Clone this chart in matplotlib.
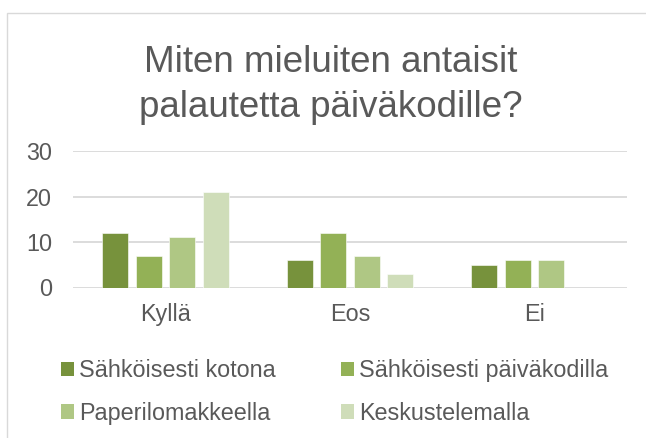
import matplotlib.pyplot as plt
from matplotlib.patches import Patch, Rectangle
import numpy as np

plt.rcParams['font.family'] = ['Liberation Sans', 'DejaVu Sans']

categories = ["Kyllä", "Eos", "Ei"]
series_names = ["Sähköisesti kotona", "Sähköisesti päiväkodilla",
                "Paperilomakkeella", "Keskustelemalla"]
values = [
    [12, 6, 5],   # Sähköisesti kotona
    [7, 12, 6],   # Sähköisesti päiväkodilla
    [11, 7, 6],   # Paperilomakkeella
    [21, 3, 0],   # Keskustelemalla
]
colors = ["#77923C", "#93B156", "#AFC784", "#CFDDB9"]
text_col = "#595959"

W, H = 646, 438
fig = plt.figure(figsize=(W / 100, H / 100), dpi=100)
ax = fig.add_axes([73 / W, 1 - 287.5 / H, 554 / W, 136.5 / H])

# chart border (light gray)
fig.patches.append(Rectangle((7 / W, -0.1), 1.2, (H - 13) / H + 0.1,
                             transform=fig.transFigure, fill=False,
                             edgecolor="#D9D9D9", linewidth=1.0))

x = np.arange(len(categories))
step = 0.182
width = 0.141
for i, (name, vals) in enumerate(zip(series_names, values)):
    ax.bar(x + (i - 1.5) * step, vals, width, color=colors[i],
           edgecolor="white", linewidth=0.4, label=name, zorder=3)

ax.set_xlim(-0.5, 2.5)
ax.set_ylim(0, 30)
ax.set_yticks([0, 10, 20, 30])
ax.set_xticks(x)
ax.set_xticklabels(categories)
ax.grid(axis="y", color="#D9D9D9", linewidth=1.3, zorder=0)
ax.set_axisbelow(True)
for s in ax.spines.values():
    s.set_visible(False)
ax.tick_params(length=0, labelsize=16.8, labelcolor=text_col)
ax.tick_params(axis="y", pad=15)
ax.tick_params(axis="x", pad=11)

title_lines = ["Miten mieluiten antaisit", "palautetta päiväkodille?"]
for line, base in zip(title_lines, [72, 117]):
    fig.text(330.5 / W, 1 - base / H, line, ha="center", va="baseline",
             fontsize=26.5, color=text_col)

# legend, row-wise order
handles = [Patch(facecolor=c) for c in colors]
order = [0, 2, 1, 3]
leg = fig.legend([handles[i] for i in order], [series_names[i] for i in order],
                 ncol=2, loc="upper left", bbox_to_anchor=(61 / W, 1 - 359 / H),
                 frameon=False, fontsize=16.8, handlelength=0.57, handleheight=0.57,
                 handletextpad=0.2, columnspacing=2.8, labelspacing=0.85,
                 borderpad=0, borderaxespad=0)
for t in leg.get_texts():
    t.set_color(text_col)

fig.savefig("out.png", dpi=100)
